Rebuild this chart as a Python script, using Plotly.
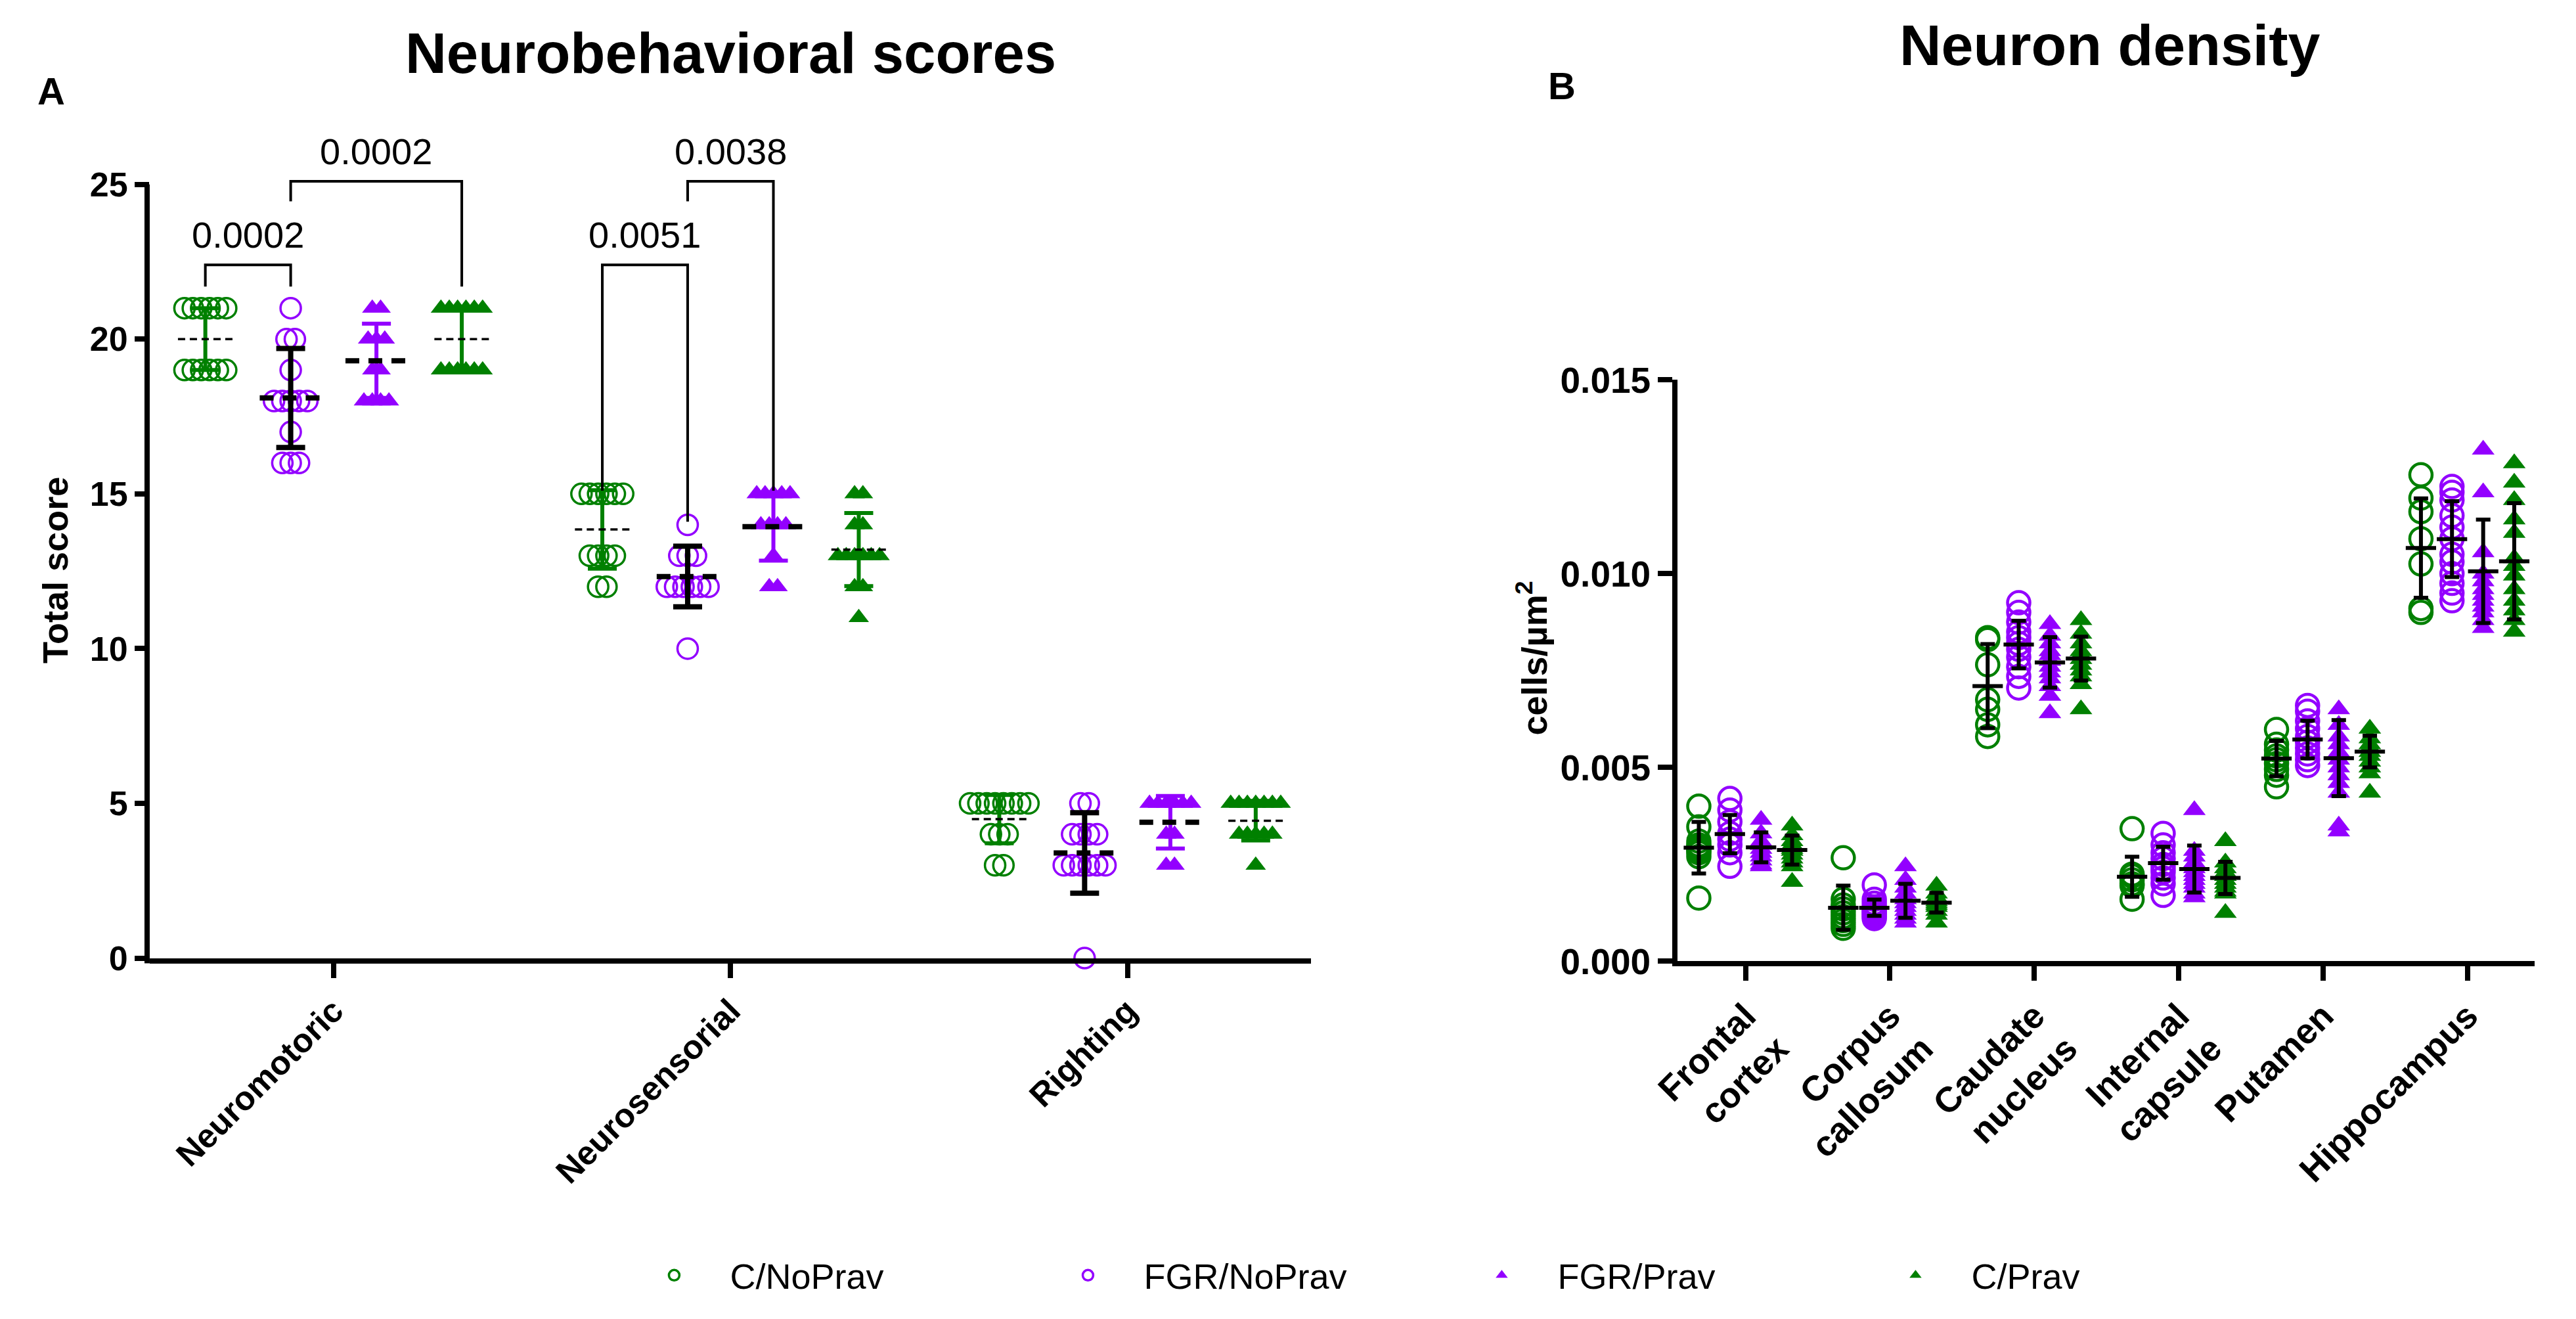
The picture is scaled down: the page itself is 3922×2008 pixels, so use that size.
import plotly.graph_objects as go

# ---------------- data: panel A (neurobehavioral scores) ----------------
groups = ["C/NoPrav", "FGR/NoPrav", "FGR/Prav", "C/Prav"]
behav_categories = ["Neuromotoric", "Neurosensorial", "Righting"]

score_c_noprav = [[21] * 6 + [19] * 6,
                  [15] * 6 + [13] * 4 + [12] * 2,
                  [5] * 8 + [4] * 3 + [3] * 2]
score_fgr_noprav = [[21, 20, 20, 19, 18, 18, 18, 18, 18, 17, 16, 16, 16],
                    [14, 13, 13, 13, 12, 12, 12, 12, 12, 12, 10],
                    [5, 5, 4, 4, 4, 4, 3, 3, 3, 3, 3, 3, 0]]
score_fgr_prav = [[21, 21, 20, 20, 20, 19, 19, 18, 18, 18, 18],
                  [15] * 5 + [14] * 4 + [13] + [12] * 2,
                  [5] * 6 + [4] * 2 + [3] * 2]
score_c_prav = [[21] * 6 + [19] * 6,
                [15] * 2 + [14] * 2 + [13] * 6 + [12] * 2 + [11],
                [5] * 7 + [4] * 5 + [3]]

score_mean = [[20.0, 13.85, 4.49],
              [18.1, 12.33, 3.40],
              [19.3, 13.94, 4.39],
              [20.0, 13.20, 4.44]]
score_sd = [[1.0, 1.27, 0.78],
            [1.6, 0.98, 1.30],
            [1.2, 1.10, 0.85],
            [1.0, 1.18, 0.64]]

# significance brackets (panel A)
bracket_labels = ["0.0002", "0.0002", "0.0051", "0.0038"]
bracket_category = [0, 0, 1, 1]
bracket_left_group = [0, 1, 0, 1]
bracket_right_group = [1, 3, 1, 2]
bracket_top = [22.4, 25.1, 22.4, 25.1]
bracket_left_end = [21.7, 24.45, 15.1, 24.45]
bracket_right_end = [21.7, 21.7, 14.1, 15.1]

# ---------------- data: panel B (neuron density, cells/um^2) ----------------
regions = ["Frontal<br>cortex", "Corpus<br>callosum", "Caudate<br>nucleus",
           "Internal<br>capsule", "Putamen", "Hippocampus"]

density_c_noprav = [
    [0.00400, 0.00347, 0.00310, 0.00300, 0.00295, 0.00290, 0.00285, 0.00280, 0.00270, 0.00163],
    [0.00267, 0.00160, 0.00145, 0.00135, 0.00125, 0.00115, 0.00105, 0.00095, 0.00085],
    [0.00835, 0.00830, 0.00765, 0.00675, 0.00650, 0.00610, 0.00580],
    [0.00342, 0.00225, 0.00220, 0.00210, 0.00200, 0.00195, 0.00160],
    [0.00598, 0.00560, 0.00545, 0.00530, 0.00520, 0.00510, 0.00495, 0.00480, 0.00450],
    [0.01255, 0.01195, 0.01160, 0.01090, 0.01025, 0.00910, 0.00900]]
density_fgr_noprav = [
    [0.00420, 0.00390, 0.00360, 0.00330, 0.00315, 0.00300, 0.00280, 0.00245],
    [0.00197, 0.00160, 0.00150, 0.00140, 0.00135, 0.00130, 0.00125, 0.00120, 0.00115, 0.00110],
    [0.00925, 0.00900, 0.00875, 0.00850, 0.00835, 0.00820, 0.00805, 0.00785, 0.00760, 0.00735, 0.00705],
    [0.00330, 0.00300, 0.00280, 0.00265, 0.00250, 0.00240, 0.00230, 0.00215, 0.00200, 0.00170],
    [0.00660, 0.00645, 0.00620, 0.00600, 0.00580, 0.00565, 0.00550, 0.00535, 0.00520, 0.00505],
    [0.01225, 0.01210, 0.01190, 0.01150, 0.01120, 0.01090, 0.01050, 0.01030, 0.01000, 0.00975, 0.00950, 0.00930]]
density_fgr_prav = [
    [0.00365, 0.00330, 0.00310, 0.00300, 0.00290, 0.00280, 0.00270, 0.00260, 0.00250, 0.00245],
    [0.00245, 0.00210, 0.00190, 0.00175, 0.00160, 0.00150, 0.00140, 0.00130, 0.00120, 0.00110, 0.00100],
    [0.00870, 0.00840, 0.00820, 0.00800, 0.00790, 0.00775, 0.00760, 0.00745, 0.00730, 0.00710, 0.00685, 0.00640],
    [0.00390, 0.00285, 0.00270, 0.00255, 0.00240, 0.00230, 0.00220, 0.00210, 0.00200, 0.00190, 0.00175, 0.00165],
    [0.00650, 0.00610, 0.00580, 0.00560, 0.00540, 0.00520, 0.00500, 0.00480, 0.00460, 0.00435, 0.00350, 0.00335],
    [0.01320, 0.01210, 0.01055, 0.01000, 0.00980, 0.00960, 0.00945, 0.00930, 0.00915, 0.00900, 0.00880, 0.00860]]
density_c_prav = [
    [0.00350, 0.00325, 0.00310, 0.00300, 0.00290, 0.00285, 0.00275, 0.00265, 0.00255, 0.00245, 0.00205],
    [0.00195, 0.00175, 0.00165, 0.00155, 0.00150, 0.00145, 0.00140, 0.00130, 0.00120, 0.00100],
    [0.00880, 0.00845, 0.00820, 0.00800, 0.00790, 0.00780, 0.00765, 0.00750, 0.00735, 0.00715, 0.00650],
    [0.00310, 0.00255, 0.00240, 0.00230, 0.00220, 0.00210, 0.00200, 0.00190, 0.00180, 0.00175, 0.00125],
    [0.00600, 0.00575, 0.00560, 0.00550, 0.00540, 0.00530, 0.00515, 0.00500, 0.00485, 0.00435],
    [0.01285, 0.01235, 0.01190, 0.01140, 0.01105, 0.01040, 0.01020, 0.00995, 0.00960, 0.00930, 0.00905, 0.00880, 0.00850]]

density_mean = [[0.00293, 0.00138, 0.00710, 0.00218, 0.00523, 0.01066],
                [0.00328, 0.00138, 0.00817, 0.00253, 0.00572, 0.01089],
                [0.00294, 0.00156, 0.00771, 0.00238, 0.00524, 0.01006],
                [0.00287, 0.00151, 0.00781, 0.00215, 0.00541, 0.01032]]
density_sd = [[0.000665, 0.00057, 0.001085, 0.000515, 0.000455, 0.00128],
              [0.000495, 0.00021, 0.000615, 0.000425, 0.000485, 0.00098],
              [0.000385, 0.00044, 0.00065, 0.000605, 0.00098, 0.001335],
              [0.000375, 0.000255, 0.000565, 0.000415, 0.00041, 0.0015]]

# ---------------- styles ----------------
GREEN = "#008000"
PURPLE = "#9300FF"
FONT = "Liberation Sans, Arial, sans-serif"
group_colors = [GREEN, PURPLE, PURPLE, GREEN]
group_symbols = ["circle-open", "circle-open", "triangle-up", "triangle-up"]
group_offsets = [-0.323, -0.108, 0.108, 0.323]
errbar_colors_a = [GREEN, "black", PURPLE, GREEN]
meanline_width_a = [3.5, 8, 8, 3.5]
meanline_dash_a = ["11px,7px", "21px,14px", "21px,14px", "11px,7px"]
meanline_half_a = [0.069, 0.078, 0.078, 0.069]
SWARM_STEP = 0.021

scores = [score_c_noprav, score_fgr_noprav, score_fgr_prav, score_c_prav]
densities = [density_c_noprav, density_fgr_noprav, density_fgr_prav, density_c_prav]


def swarm(values, center, step):
    counts = {}
    for v in values:
        counts[v] = counts.get(v, 0) + 1
    seen = {}
    xs = []
    for v in values:
        n = counts[v]
        i = seen.get(v, 0)
        seen[v] = i + 1
        xs.append(center + (i - (n - 1) / 2) * step)
    return xs


fig = go.Figure()

# ---------- panel A points ----------
for g in range(4):
    xs, ys = [], []
    for c, vals in enumerate(scores[g]):
        xs += swarm(vals, c + group_offsets[g], SWARM_STEP)
        ys += vals
    is_circle = g < 2
    fig.add_trace(go.Scatter(
        x=xs, y=ys, mode="markers", name=groups[g], legendgroup=groups[g],
        xaxis="x", yaxis="y", cliponaxis=False, showlegend=True,
        marker=dict(symbol=group_symbols[g], size=31 if is_circle else 27,
                    color=group_colors[g],
                    line=dict(width=3.5 if is_circle else 0, color=group_colors[g]))))

# ---------- panel A error bars and mean lines ----------
for g in range(4):
    xc = [c + group_offsets[g] for c in range(len(behav_categories))]
    fig.add_trace(go.Scatter(
        x=xc, y=score_mean[g], mode="markers", showlegend=False, hoverinfo="skip",
        xaxis="x", yaxis="y", cliponaxis=False,
        marker=dict(size=1, color="rgba(0,0,0,0)"),
        error_y=dict(type="data", array=score_sd[g], color=errbar_colors_a[g],
                     thickness=6 if g != 1 else 8, width=22)))
    mx, my = [], []
    for c in range(len(behav_categories)):
        mx += [xc[c] - meanline_half_a[g], xc[c] + meanline_half_a[g], None]
        my += [score_mean[g][c], score_mean[g][c], None]
    fig.add_trace(go.Scatter(
        x=mx, y=my, mode="lines", showlegend=False, hoverinfo="skip",
        xaxis="x", yaxis="y",
        line=dict(color="black", width=meanline_width_a[g], dash=meanline_dash_a[g])))

# ---------- panel A brackets ----------
annotations = []
for b in range(len(bracket_labels)):
    xl = bracket_category[b] + group_offsets[bracket_left_group[b]]
    xr = bracket_category[b] + group_offsets[bracket_right_group[b]]
    fig.add_trace(go.Scatter(
        x=[xl, xl, xr, xr],
        y=[bracket_left_end[b], bracket_top[b], bracket_top[b], bracket_right_end[b]],
        mode="lines", showlegend=False, hoverinfo="skip", xaxis="x", yaxis="y",
        line=dict(color="black", width=4)))
    annotations.append(dict(
        x=(xl + xr) / 2, y=bracket_top[b], xref="x", yref="y", text=bracket_labels[b],
        showarrow=False, xanchor="center", yanchor="bottom", yshift=12,
        font=dict(family=FONT, size=56, color="black")))

# ---------- panel B points ----------
for g in range(4):
    xs, ys = [], []
    for r, vals in enumerate(densities[g]):
        xs += [r + group_offsets[g]] * len(vals)
        ys += vals
    is_circle = g < 2
    fig.add_trace(go.Scatter(
        x=xs, y=ys, mode="markers", name=groups[g], legendgroup=groups[g],
        xaxis="x2", yaxis="y2", cliponaxis=False, showlegend=False,
        marker=dict(symbol=group_symbols[g], size=34 if is_circle else 30,
                    color=group_colors[g],
                    line=dict(width=4.5 if is_circle else 0, color=group_colors[g]))))

# ---------- panel B mean and SD ----------
for g in range(4):
    xc = [r + group_offsets[g] for r in range(len(regions))]
    fig.add_trace(go.Scatter(
        x=xc, y=density_mean[g], mode="markers", showlegend=False, hoverinfo="skip",
        xaxis="x2", yaxis="y2", cliponaxis=False,
        marker=dict(symbol="line-ew", size=33, color="black",
                    line=dict(width=6, color="black")),
        error_y=dict(type="data", array=density_sd[g], color="black",
                     thickness=6, width=11)))

# ---------- text ----------
def label(text, x, y, size, angle=0):
    return dict(text=text, x=x, y=y, xref="paper", yref="paper", xanchor="center",
                yanchor="middle", textangle=angle, showarrow=False,
                font=dict(family=FONT, size=size, color="black"))


annotations += [
    label("<b>Neurobehavioral scores</b>", 0.2816, 0.964, 87),
    label("<b>Neuron density</b>", 0.8170, 0.970, 88),
    label("<b>A</b>", 0.0178, 0.935, 58),
    label("<b>B</b>", 0.6042, 0.939, 58),
    label("<b>Total score</b>", 0.0195, 0.572, 54, -90),
    label("<b>cells/µm<sup>2</sup></b>", 0.5927, 0.505, 54, -90),
]

# left y-axis line (stops at 25, brackets sit above it)
YA_TOP = 25
YA_RANGE = [0, 28]
shapes = [dict(type="line", xref="x domain", yref="y domain",
               x0=-0.0023, x1=-0.0023, y0=-0.006, y1=YA_TOP / YA_RANGE[1],
               line=dict(color="black", width=8))]

axis_common = dict(showgrid=False, zeroline=False, ticks="outside", ticklen=22,
                   tickwidth=8, tickcolor="black", linecolor="black", linewidth=8,
                   fixedrange=True, automargin=False)

fig.update_layout(
    template="none",
    width=3922, height=2008,
    margin=dict(l=0, r=0, t=0, b=0, pad=0),
    paper_bgcolor="white", plot_bgcolor="white",
    font=dict(family=FONT, color="black"),
    xaxis=dict(domain=[0.0561, 0.5070], range=[-0.463, 2.463], anchor="y",
               tickvals=list(range(len(behav_categories))), ticktext=behav_categories,
               tickangle=-45, showline=True,
               tickfont=dict(family=FONT, size=51, color="black", weight="bold"),
               **axis_common),
    yaxis=dict(domain=[0.2776, 0.9346], range=YA_RANGE, anchor="x",
               tickvals=[0, 5, 10, 15, 20, 25], showline=False,
               tickfont=dict(family=FONT, size=52, color="black", weight="bold"),
               **axis_common),
    xaxis2=dict(domain=[0.6492, 0.9820], range=[-0.470, 5.466], anchor="y2",
                tickvals=list(range(len(regions))), ticktext=regions,
                tickangle=-45, showline=True,
                tickfont=dict(family=FONT, size=54, color="black", weight="bold"),
                **axis_common),
    yaxis2=dict(domain=[0.2752, 0.7160], range=[0, 0.015], anchor="x2",
                tickvals=[0, 0.005, 0.010, 0.015], tickformat=".3f", showline=True,
                tickfont=dict(family=FONT, size=55, color="black", weight="bold"),
                **axis_common),
    legend=dict(orientation="h", x=0.238, y=0.037, xanchor="left", yanchor="middle",
                font=dict(family=FONT, size=54, color="black"),
                itemwidth=160, entrywidth=455, traceorder="normal",
                bgcolor="rgba(0,0,0,0)", borderwidth=0),
    annotations=annotations,
    shapes=shapes,
    showlegend=True,
    hovermode="closest",
)

fig.write_html("out.html")
